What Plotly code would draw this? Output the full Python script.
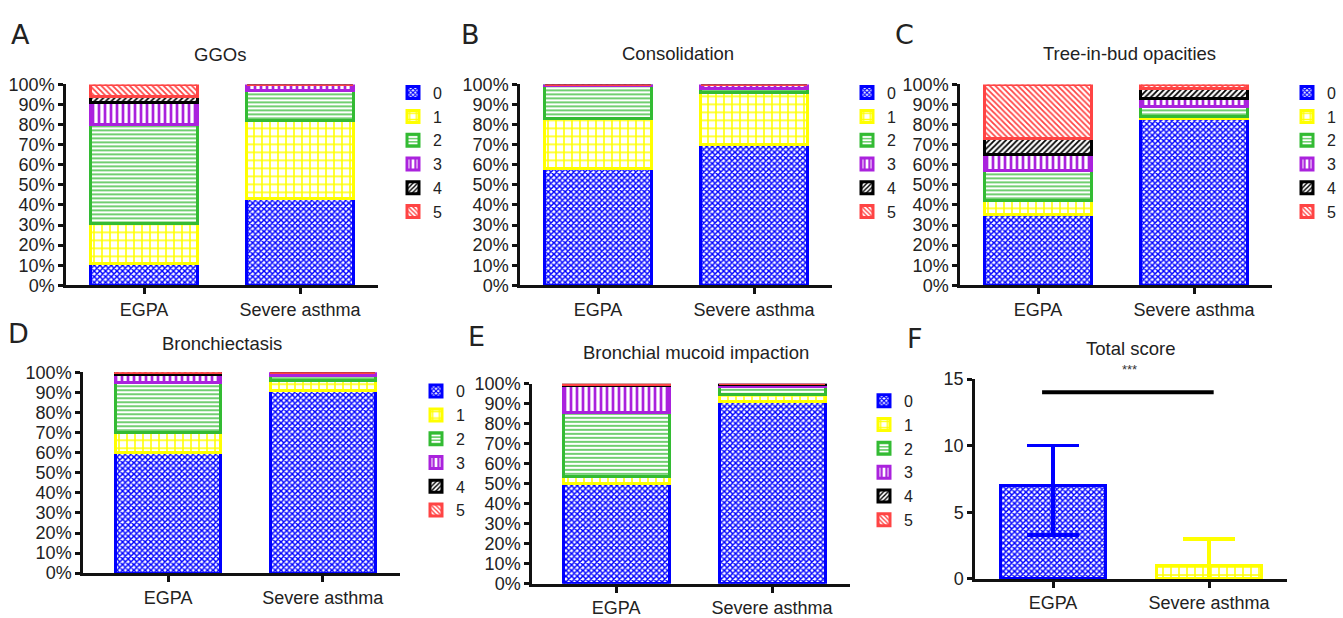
import plotly.graph_objects as go

W, H = 1343, 618

groups = ["EGPA", "Severe asthma"]
scores = ["0", "1", "2", "3", "4", "5"]

ggos_egpa = [11, 20, 49, 11, 3, 6]
ggos_sa = [43, 39, 15, 3, 0, 0]
cons_egpa = [58, 25, 16.5, 0.5, 0, 0]
cons_sa = [70, 26, 2, 2, 0, 0]
tib_egpa = [35, 7, 15, 8, 8, 27]
tib_sa = [83, 1, 5, 4, 5, 2]
bron_egpa = [60, 10, 25, 4, 0.7, 0.3]
bron_sa = [91, 5, 2.5, 1.5, 0, 0]
muc_egpa = [50, 3.5, 32, 13.5, 0.7, 0.3]
muc_sa = [91, 3.5, 4, 1.2, 0.3, 0]

pct_ticks = [0, 10, 20, 30, 40, 50, 60, 70, 80, 90, 100]
pct_labels = ["0%", "10%", "20%", "30%", "40%", "50%", "60%", "70%", "80%", "90%", "100%"]
score_ticks = [0, 5, 10, 15]

total_mean = [7, 1]
total_upper = [3, 2]
total_lower = [3.7, 1]
sig_y = 14

titles = ["GGOs", "Consolidation", "Tree-in-bud opacities", "Bronchiectasis",
          "Bronchial mucoid impaction", "Total score"]
letters = ["A", "B", "C", "D", "E", "F"]

colors = ["#0000ff", "#ffff00", "#33bb33", "#aa22dd", "#000000", "#ff4444"]
shapes_p = ["x", "+", "-", "|", "/", "\\"]
sizes_p = [4, 8, 4, 6, 4, 4]
solid_p = [0.6, 0.35, 0.35, 0.45, 0.45, 0.45]

FONT = "Liberation Sans, Arial, Helvetica, sans-serif"

# pixel layout: (x_left, x_right, y_bottom, y_top, xrange_left)
panels = [
    (66, 378, 285, 77, -0.5),
    (520, 832, 285, 77, -0.5),
    (960, 1272, 285, 77, -0.5),
    (83, 400, 583, 375, -0.55),
    (532, 850, 594, 387, -0.54),
    (975, 1287, 589, 382, -0.5),
]

fig = go.Figure()

data_sets = [(ggos_egpa, ggos_sa), (cons_egpa, cons_sa), (tib_egpa, tib_sa),
             (bron_egpa, bron_sa), (muc_egpa, muc_sa)]


def marker_for(k):
    return dict(color="white",
                line=dict(color=colors[k], width=3),
                pattern=dict(shape=shapes_p[k], fgcolor=colors[k], bgcolor="white",
                             size=sizes_p[k], solidity=solid_p[k], fillmode="replace"))


for p, (eg, sa) in enumerate(data_sets):
    ax = "" if p == 0 else str(p + 1)
    for k in range(6):
        fig.add_trace(go.Bar(
            x=groups, y=[eg[k], sa[k]], name=scores[k],
            xaxis="x" + ax, yaxis="y" + ax, width=0.68,
            legend="legend" + ax, marker=marker_for(k), showlegend=True,
        ))

# Panel F
for i, g in enumerate(groups):
    fig.add_trace(go.Bar(
        x=[g], y=[total_mean[i]], xaxis="x6", yaxis="y6", width=0.67,
        showlegend=False, marker=marker_for(i),
        error_y=dict(type="data", symmetric=False, array=[total_upper[i]],
                     arrayminus=[total_lower[i]], color=colors[i], thickness=3.5, width=26),
    ))

layout = dict(
    width=W, height=H, margin=dict(l=0, r=0, t=0, b=0),
    paper_bgcolor="white", plot_bgcolor="white", barmode="stack",
    font=dict(family=FONT, color="#222222", size=17),
)

for p, (xl, xr, yb, yt, xr0) in enumerate(panels):
    ax = "" if p == 0 else str(p + 1)
    layout["xaxis" + ax] = dict(
        domain=[xl / W, xr / W], range=[xr0, 1.5], anchor="y" + ax,
        type="category", showline=True, linecolor="#111111", linewidth=2.5,
        ticks="outside", ticklen=6, tickwidth=2.5, tickcolor="#111111",
        showgrid=False, zeroline=False, tickfont=dict(size=18, family=FONT, color="#222222"),
        fixedrange=True,
    )
    if p < 5:
        yax = dict(range=[0, 100], tickmode="array", tickvals=pct_ticks, ticktext=pct_labels)
    else:
        yax = dict(range=[0, 15], tickmode="array", tickvals=score_ticks,
                   ticktext=[str(v) for v in score_ticks])
    yax.update(
        domain=[1 - yb / H, 1 - yt / H], anchor="x" + ax,
        showline=True, linecolor="#111111", linewidth=2.5,
        ticks="outside", ticklen=5, tickwidth=2.5, tickcolor="#111111",
        showgrid=False, zeroline=False, tickfont=dict(size=18, family=FONT, color="#222222"),
        fixedrange=True,
    )
    layout["yaxis" + ax] = yax

legend_pos = [(393, 68), (847, 68), (1287, 68), (416, 377), (864, 387)]
for p, (lx, ly) in enumerate(legend_pos):
    ax = "" if p == 0 else str(p + 1)
    layout["legend" + ax] = dict(
        x=lx / W, y=1 - ly / H, xanchor="left", yanchor="top",
        font=dict(size=16, family=FONT, color="#222222"),
        bgcolor="rgba(0,0,0,0)", traceorder="normal", itemwidth=30,
        tracegroupgap=0,
    )

fig.update_layout(**layout)

title_pos = [(220, 46), (678, 45), (1129, 45), (222, 345), (696, 355), (1130, 350)]
for (tx, ty), t in zip(title_pos, titles):
    fig.add_annotation(text=t, x=tx / W, y=1 - ty / H, xref="paper", yref="paper",
                       showarrow=False, font=dict(size=18.5, family=FONT, color="#222222"),
                       xanchor="center", yanchor="middle")

letter_pos = [(20, 25), (470, 25), (904, 25), (18, 335), (476, 338), (915, 340)]
for (lx, ly), t in zip(letter_pos, letters):
    fig.add_annotation(text=t, x=lx / W, y=1 - ly / H, xref="paper", yref="paper",
                       showarrow=False, font=dict(size=27, family="DejaVu Sans, Liberation Sans", color="#222222"),
                       xanchor="center", yanchor="middle")

fig.add_annotation(text="***", x=1129 / W, y=1 - 372 / H, xref="paper", yref="paper",
                   showarrow=False, font=dict(size=13, family=FONT, color="#333333"),
                   xanchor="center", yanchor="middle")

fig.add_shape(type="line", xref="x6", yref="y6", x0=-0.07, x1=1.03, y0=sig_y, y1=sig_y,
              line=dict(color="black", width=4))

fig.write_html("out.html")
